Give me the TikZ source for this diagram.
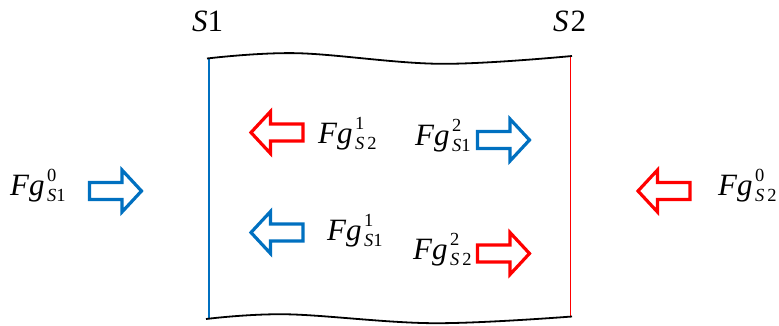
\documentclass[tikz,border=0pt]{standalone}
\usepackage{fontspec}
\setmainfont{Liberation Serif}
\definecolor{myblue}{RGB}{0,112,192}
\definecolor{myred}{RGB}{255,0,0}
\newcommand\fgl[2]{\textit{Fg}\hspace{2.5pt}\rlap{\raisebox{14pt}{\fontsize{18.5}{18.5}\selectfont #1}}{\raisebox{-6pt}{\fontsize{18.5}{18.5}\selectfont #2}}}
\tikzset{
  rarr/.pic={\draw[pic actions] (1.5,-8.5) -- (34,-8.5) -- (34,-21) -- (53.5,0) -- (34,21) -- (34,8.5) -- (1.5,8.5) -- cycle;},
  larr/.pic={\draw[pic actions] (54,-8.5) -- (21.5,-8.5) -- (21.5,-21) -- (2,0) -- (21.5,21) -- (21.5,8.5) -- (54,8.5) -- cycle;},
  barr/.style={draw=myblue, line width=3.2pt, line join=miter},
  rdarr/.style={draw=myred, line width=3.2pt, line join=miter},
  lbl/.style={anchor=base west, inner sep=0pt, font=\fontsize{31}{31}\selectfont},
  wave/.style={draw=black, line width=1.8pt}
}
\begin{document}
\begin{tikzpicture}[x=1pt,y=1pt]
\useasboundingbox (0,0) rectangle (779,325);
% side lines
\draw[myblue, line width=1.4pt] (209,266.5) -- (209,6);
\draw[myred, line width=1.4pt] (570.5,269) -- (570.5,8.3);
% wavy edges
\draw[wave] plot[smooth, tension=0.6] coordinates {(207,266.5) (297,271.8) (440,261.2) (572,269)};
\draw[wave] plot[smooth, tension=0.6] coordinates {(206,6) (287,10.7) (433,1.8) (572,8.5)};
% labels S1, S2
\node[lbl] (s1) at (192,294) {\textit{S}1};
\node[lbl] (s2) at (553,294) {\textit{S}\hspace{2pt}2};
% arrows
\pic[barr] at (88,134) {rarr};
\pic[rdarr] at (636,134) {larr};
\pic[rdarr] at (249,192.5) {larr};
\pic[barr] at (476,185) {rarr};
\pic[barr] at (249,92.5) {larr};
\pic[rdarr] at (476,71.5) {rarr};
% force labels
\node[lbl] (f0s1) at (10,130) {\fgl{0}{\textit{S}1}};
\node[lbl] (f0s2) at (718,130) {\fgl{0}{\textit{S}\hspace{3pt}2}};
\node[lbl] (f1s2) at (318,182) {\fgl{1}{\textit{S}\hspace{3pt}2}};
\node[lbl] (f2s1) at (415,180) {\fgl{2}{\textit{S}1}};
\node[lbl] (f1s1) at (327,85) {\fgl{1}{\textit{S}1}};
\node[lbl] (f2s2) at (413,66) {\fgl{2}{\textit{S}\hspace{3pt}2}};
\end{tikzpicture}
\end{document}
